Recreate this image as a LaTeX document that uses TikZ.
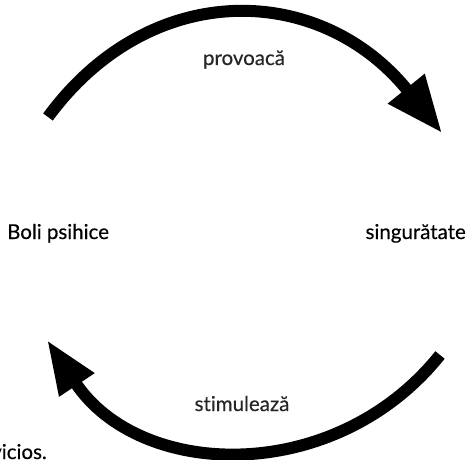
\documentclass[tikz,border=0pt]{standalone}
\usepackage{fontspec}
\setmainfont[Ligatures=NoCommon,FakeBold=0.4]{Lato}
\usetikzlibrary{arrows.meta}
\begin{document}
\begin{tikzpicture}[x=1pt,y=-1pt,
  arc/.style={line width=12pt,line cap=butt,black},
  lbl/.style={inner sep=0pt,font=\fontsize{20.5}{22}\selectfont,text=black!85},
  term/.style={inner sep=0pt,font=\fontsize{20.5}{22}\selectfont}]
\useasboundingbox (0,0) rectangle (471,460);
\node[term,anchor=base west] (boli) at (7,239) {Boli psihice};
\node[term,anchor=base east] (sing) at (466,239) {singurătate};
\node[lbl,anchor=base] (prov) at (244,65) {provoacă};
\node[lbl,anchor=base] (stim) at (242,411) {stimulează};
\node[term,anchor=base east] (vic) at (47,459) {vicios.};
\coordinate (a1) at (48,117);
\coordinate (a2) at (442,133);
\coordinate (b1) at (440,355);
\coordinate (b2) at (47,340);
\draw[arc,-{Triangle[length=57pt,width=44pt]}] (a1) .. controls (150,-22) and (320,-18) .. (a2);
\draw[arc,-{Triangle[length=54pt,width=39pt]}] (b1) .. controls (335,486) and (140,480) .. (b2);
\end{tikzpicture}
\end{document}
